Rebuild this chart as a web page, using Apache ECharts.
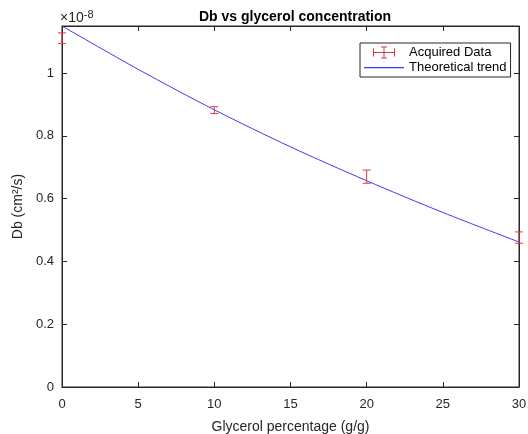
<!DOCTYPE html>
<html>
<head>
<meta charset="utf-8">
<script src="https://cdn.jsdelivr.net/npm/echarts@6/dist/echarts.min.js"></script>
<style>html,body{margin:0;padding:0;background:#fff}#c{width:528px;height:434px}</style>
</head>
<body>
<div id="c"></div>
<script>
// values in units of 1e-8 cm^2/s
var glycerol = [0, 10, 20, 30];
var dbMeasured = [1.111, 0.882, 0.670, 0.476];
var dbError = [0.017, 0.011, 0.021, 0.018];
var trendX = [0, 5, 10, 15, 20, 25, 30];
var trendY = [1.15, 1.012, 0.883, 0.765, 0.657, 0.556, 0.462];
var xTicks = [0, 5, 10, 15, 20, 25, 30];
var yTicks = [0, 0.2, 0.4, 0.6, 0.8, 1];

var FONT = 'Liberation Sans, Arial, sans-serif';
var AX = '#262626';
var RED = '#d83a44';
var BLUE = '#3c3cf0';

var chart = echarts.init(document.getElementById('c'));
var errData = glycerol.map(function (x, i) { return [x, dbMeasured[i], dbError[i]]; });
var lineData = trendX.map(function (x, i) { return [x, trendY[i]]; });

function axisCommon(showLabel) {
  return {
    axisLine: { show: true, onZero: false, lineStyle: { color: AX, width: 1 } },
    axisTick: { show: true, inside: true, length: 5, lineStyle: { color: AX } },
    axisLabel: { show: showLabel, color: AX, fontSize: 13, fontFamily: FONT, showMaxLabel: false },
    splitLine: { show: false }
  };
}

var option = {
  animation: false,
  backgroundColor: '#fff',
  color: [RED, BLUE],
  textStyle: { fontFamily: FONT },
  title: {
    text: 'Db vs glycerol concentration',
    left: 290, top: 5, textAlign: 'center',
    textStyle: { fontSize: 14, fontWeight: 'bold', color: '#000', fontFamily: FONT }
  },
  grid: { left: 62, right: 9, top: 26, bottom: 47, containLabel: false, outerBoundsMode: 'none',
    show: true, borderColor: AX, borderWidth: 1, backgroundColor: '#fff' },
  legend: {
    left: 360, top: 43,
    orient: 'vertical',
    backgroundColor: '#fff',
    borderColor: AX, borderWidth: 1,
    padding: [3, 4, 3, 4],
    itemGap: 2,
    itemWidth: 40, itemHeight: 12,
    textStyle: { fontSize: 13, color: '#000', fontFamily: FONT },
    data: [
      { name: 'Acquired Data', icon: 'path://M0,0 M40,12 M9,5.5h22v1h-22z M9,2h1v8h-1z M30,2h1v8h-1z M19.5,0h1v12h-1z M17,0h6v1h-6z M17,11h6v1h-6z',
        itemStyle: { color: RED, borderWidth: 0 } },
      { name: 'Theoretical trend', icon: 'path://M0,0 M40,12 M0,5.5h40v1.2h-40z',
        itemStyle: { color: BLUE, borderColor: BLUE, borderWidth: 0, opacity: 1 },
        lineStyle: { color: BLUE, width: 0, opacity: 0 } }
    ]
  },
  xAxis: [
    Object.assign({}, axisCommon(true), {
      type: 'value', min: 0, max: 30, interval: 5,
      name: 'Glycerol percentage (g/g)', nameLocation: 'middle', nameGap: 33,
      nameTextStyle: { fontSize: 14, color: AX, fontFamily: FONT },
      axisLabel: { show: true, color: AX, fontSize: 13, fontFamily: FONT, margin: 11 }
    }),
    Object.assign({}, axisCommon(false), { type: 'value', min: 0, max: 30, interval: 5, position: 'top' })
  ],
  yAxis: [
    Object.assign({}, axisCommon(true), {
      type: 'value', min: 0, max: 1.15, interval: 0.2,
      name: 'Db (cm²/s)', nameLocation: 'middle', nameGap: 34,
      nameTextStyle: { fontSize: 14, color: AX, fontFamily: FONT },
      axisLabel: { show: true, color: AX, fontSize: 13, fontFamily: FONT, margin: 8, showMaxLabel: false,
        formatter: function (v) { return yTicks.some(function (t) { return Math.abs(t - v) < 1e-9; }) ? String(+v.toFixed(1)) : ''; } }
    }),
    Object.assign({}, axisCommon(false), { type: 'value', min: 0, max: 1.15, interval: 0.2, position: 'right' })
  ],
  graphic: [{
    type: 'text', left: 60, top: 9,
    style: {
      text: '{a|×10}{b|-8}',
      rich: {
        a: { fontSize: 14, fill: AX, fontFamily: FONT },
        b: { fontSize: 11, fill: AX, fontFamily: FONT, verticalAlign: 'top', padding: [0, 0, 8, 0] }
      }
    }
  }],
  series: [
    {
      name: 'Acquired Data',
      type: 'custom',
      clip: false,
      color: RED,
      data: errData,
      encode: { x: 0, y: 1 },
      renderItem: function (params, api) {
        var x = api.value(0), y = api.value(1), e = api.value(2);
        var hi = api.coord([x, y + e]);
        var lo = api.coord([x, y - e]);
        var w = 4;
        var st = { stroke: RED, lineWidth: 1 };
        return {
          type: 'group',
          children: [
            { type: 'line', shape: { x1: hi[0], y1: hi[1], x2: lo[0], y2: lo[1] }, style: st },
            { type: 'line', shape: { x1: hi[0] - w, y1: hi[1], x2: hi[0] + w, y2: hi[1] }, style: st },
            { type: 'line', shape: { x1: lo[0] - w, y1: lo[1], x2: lo[0] + w, y2: lo[1] }, style: st }
          ]
        };
      },
      z: 3
    },
    {
      name: 'Theoretical trend',
      type: 'line',
      color: BLUE,
      data: lineData,
      symbol: 'none',
      smooth: 0.3,
      lineStyle: { color: BLUE, width: 1 },
      itemStyle: { color: BLUE },
      z: 2
    }
  ]
};
chart.setOption(option);
</script>
</body>
</html>
